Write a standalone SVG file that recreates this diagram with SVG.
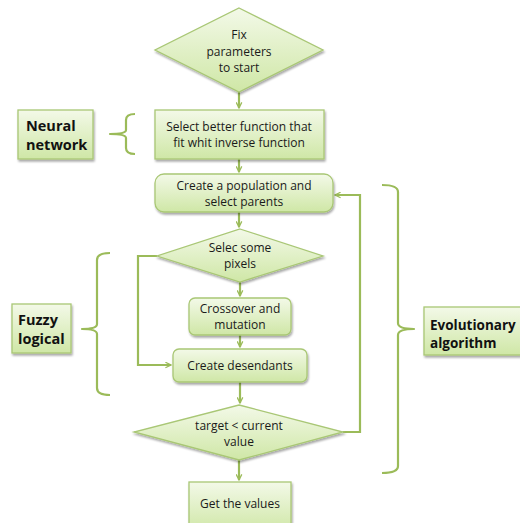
<svg xmlns="http://www.w3.org/2000/svg" width="520" height="523" viewBox="0 0 520 523">
  <defs>
    <linearGradient id="fillGreen" x1="0" y1="0" x2="0" y2="1">
      <stop offset="0" stop-color="#f3f9e8"/>
      <stop offset="1" stop-color="#cfe7a6"/>
    </linearGradient>
    <filter id="shadow" x="-10%" y="-10%" width="130%" height="140%">
      <feGaussianBlur in="SourceAlpha" stdDeviation="1.2"/>
      <feOffset dx="1" dy="2" result="b"/>
      <feComponentTransfer><feFuncA type="linear" slope="0.35"/></feComponentTransfer>
      <feMerge><feMergeNode/><feMergeNode in="SourceGraphic"/></feMerge>
    </filter>
    <marker id="arrow" viewBox="0 0 10 10" refX="9" refY="5" markerWidth="7" markerHeight="7" orient="auto" markerUnits="userSpaceOnUse">
      <path d="M1,1 L9,5 L1,9" fill="none" stroke="#9bbb59" stroke-width="1.8"/>
    </marker>
  </defs>
  <style>
    .shape { fill: url(#fillGreen); stroke: #a9c775; stroke-width: 1.3; filter: url(#shadow); }
    .label { font-family: "Open Sans", "Liberation Sans", sans-serif; font-size: 12px; fill: #1a1a1a; text-anchor: middle; }
    .tag { font-family: "Open Sans", "Liberation Sans", sans-serif; font-size: 14.5px; font-weight: bold; fill: #111; }
    .tag-sm { font-size: 13.5px; }
    .conn { fill: none; stroke: #9bbb59; stroke-width: 2.2; }
    .brace { fill: none; stroke: #9bbb59; stroke-width: 2.2; stroke-linejoin: round; }
  </style>
  <rect width="520" height="523" fill="#ffffff"/>

  <!-- connectors -->
  <g id="connectors">
    <path class="conn" d="M239,92 L239,108" marker-end="url(#arrow)"/>
    <path class="conn" d="M239,159 L239,172" marker-end="url(#arrow)"/>
    <path class="conn" d="M239,212 L239,227" marker-end="url(#arrow)"/>
    <path class="conn" d="M240,282 L240,296" marker-end="url(#arrow)"/>
    <path class="conn" d="M240,335 L240,347" marker-end="url(#arrow)"/>
    <path class="conn" d="M157,256 L138,256 L138,365 L171,365" marker-end="url(#arrow)"/>
    <path class="conn" d="M240,382 L240,403" marker-end="url(#arrow)"/>
    <path class="conn" d="M343,432 L360,432 L360,195 L335,195" marker-end="url(#arrow)"/>
    <path class="conn" d="M239,460 L239,480" marker-end="url(#arrow)"/>
  </g>

  <!-- braces -->
  <g id="brace-neural">
    <path class="brace" d="M135,114 Q126,114 126,120 L126,130 Q126,134 110,134 Q126,134 126,138 L126,148 Q126,154 135,154"/>
  </g>
  <g id="brace-fuzzy">
    <path class="brace" d="M110,253 Q97,253 97,260 L97,324 Q97,329 82,329 Q97,329 97,334 L97,388 Q97,395 110,395"/>
  </g>
  <g id="brace-evolutionary">
    <path class="brace" d="M382,185 Q398,185 398,192 L398,323 Q398,329 414,329 Q398,329 398,335 L398,466 Q398,473 382,473"/>
  </g>

  <g id="node-fix">
    <polygon class="shape" points="239,8 323,50 239,92 155,50"/>
    <text class="label" x="239" y="39">Fix</text>
    <text class="label" x="239" y="56">parameters</text>
    <text class="label" x="239" y="72">to start</text>
  </g>

  <g id="node-neural">
    <rect class="shape" x="18" y="110" width="75" height="49"/>
    <text class="tag" x="26" y="131">Neural</text>
    <text class="tag" x="26" y="150">network</text>
  </g>

  <g id="node-select">
    <rect class="shape" x="155" y="110" width="169" height="49"/>
    <text class="label" x="239" y="131">Select better function that</text>
    <text class="label" x="239" y="147">fit whit inverse function</text>
  </g>

  <g id="node-population">
    <rect class="shape" x="155" y="174" width="178" height="38" rx="9"/>
    <text class="label" x="244" y="190">Create a population and</text>
    <text class="label" x="244" y="206">select parents</text>
  </g>

  <g id="node-pixels">
    <polygon class="shape" points="240,229 323,256 240,282 157,256"/>
    <text class="label" x="240" y="252">Selec some</text>
    <text class="label" x="240" y="268">pixels</text>
  </g>

  <g id="node-crossover">
    <rect class="shape" x="189" y="298" width="102" height="37" rx="6"/>
    <text class="label" x="240" y="313">Crossover and</text>
    <text class="label" x="240" y="329">mutation</text>
  </g>

  <g id="node-fuzzy">
    <rect class="shape" x="12" y="304" width="59" height="49"/>
    <text class="tag" x="18" y="325">Fuzzy</text>
    <text class="tag" x="18" y="344">logical</text>
  </g>

  <g id="node-desendants">
    <rect class="shape" x="173" y="349" width="134" height="33" rx="6"/>
    <text class="label" x="240" y="370">Create desendants</text>
  </g>

  <g id="node-target">
    <polygon class="shape" points="239,405 343,432 239,460 134,432"/>
    <text class="label" x="239" y="430">target &lt; current</text>
    <text class="label" x="239" y="446">value</text>
  </g>

  <g id="node-values">
    <rect class="shape" x="189" y="482" width="102" height="50"/>
    <text class="label" x="240" y="508">Get the values</text>
  </g>

  <g id="node-evolutionary">
    <rect class="shape" x="424" y="307" width="110" height="48"/>
    <text class="tag tag-sm" x="430" y="330">Evolutionary</text>
    <text class="tag tag-sm" x="430" y="348"> algorithm</text>
  </g>
</svg>
